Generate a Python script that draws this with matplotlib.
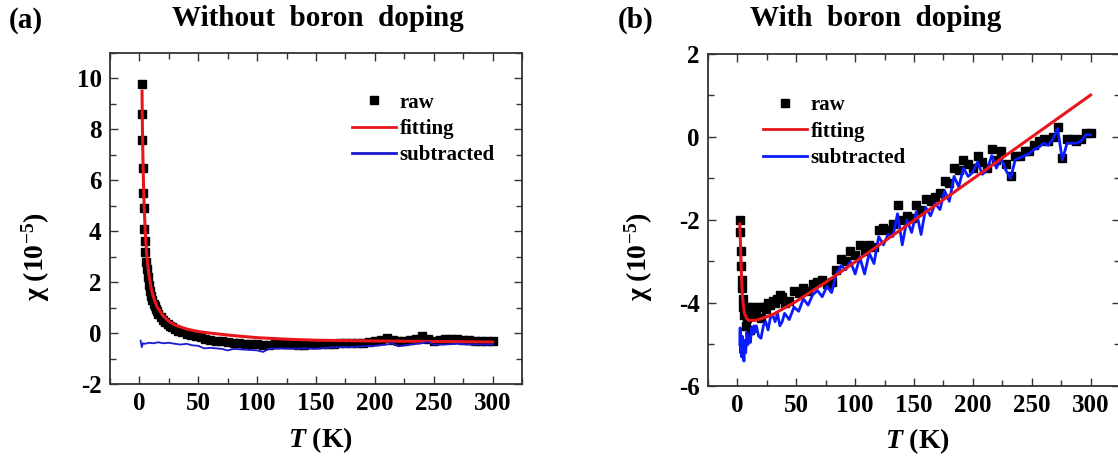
import matplotlib
matplotlib.use("Agg")
import matplotlib.pyplot as plt
from matplotlib.lines import Line2D
from matplotlib.ticker import MultipleLocator

plt.rcParams["font.family"] = ["Liberation Serif", "DejaVu Serif"]
plt.rcParams["font.weight"] = "bold"
plt.rcParams["axes.unicode_minus"] = False
plt.rcParams["mathtext.fontset"] = "custom"
plt.rcParams["mathtext.rm"] = "Liberation Serif:bold"
plt.rcParams["mathtext.it"] = "Liberation Serif:italic:bold"
plt.rcParams["mathtext.bf"] = "Liberation Serif:bold"

# ---- (a) without boron doping ----
a_raw_T = [2.0, 2.2, 2.5, 2.8, 3.2, 3.6, 4.0, 4.5, 5.0, 5.5,
           6.0, 7.0, 8.0, 9.0, 10, 11, 12, 13, 14, 15,
           16, 18, 20, 22, 24, 26, 28, 30, 33, 36,
           40, 44, 48, 52, 56, 60, 65, 70, 75, 80,
           85, 90, 95, 100, 105, 110, 115, 120, 125, 130,
           135, 140, 145, 150, 155, 160, 165, 170, 175, 180,
           185, 190, 195, 200, 205, 210, 215, 220, 225, 230,
           235, 240, 245, 250, 255, 260, 265, 270, 275, 280,
           285, 290, 295, 300]
a_raw = [9.8, 8.6, 7.6, 6.5, 5.5, 4.9, 4.1, 3.6, 3.2, 2.8,
         2.5, 2.2, 1.9, 1.65, 1.45, 1.3, 1.15, 1.05, 0.95, 0.85,
         0.75, 0.62, 0.52, 0.42, 0.35, 0.28, 0.22, 0.16, 0.08, 0.03,
         -0.02, -0.07, -0.12, -0.17, -0.22, -0.27, -0.3, -0.33, -0.35, -0.38,
         -0.4, -0.42, -0.42, -0.44, -0.45, -0.45, -0.43, -0.42, -0.42, -0.44,
         -0.45, -0.45, -0.44, -0.42, -0.42, -0.43, -0.42, -0.4, -0.4, -0.4,
         -0.4, -0.38, -0.35, -0.32, -0.28, -0.2, -0.28, -0.3, -0.3, -0.28,
         -0.25, -0.12, -0.25, -0.3, -0.28, -0.25, -0.25, -0.25, -0.27, -0.28,
         -0.3, -0.3, -0.32, -0.32]

a_fit_T = [2.2, 2.5, 3, 3.5, 4, 5, 6, 7, 8, 10, 12, 15, 20, 25, 30,
           40, 50, 60, 80, 100, 125, 150, 200, 250, 300]
a_fit = [9.5, 8.2, 6.8, 5.75, 5.0, 3.9, 3.2, 2.7, 2.3, 1.75, 1.4, 1.03, 0.68, 0.46, 0.32,
         0.16, 0.06, 0.0, -0.1, -0.18, -0.24, -0.28, -0.31, -0.33, -0.35]

a_sub_T = [1, 2, 3, 5, 8, 12, 16, 20, 25, 30,
           35, 40, 45, 50, 55, 60, 65, 70, 75, 80,
           90, 100, 105, 110, 120, 130, 140, 150, 160, 170,
           180, 190, 200, 210, 215, 220, 230, 240, 245, 250,
           260, 270, 280, 290, 300]
a_sub = [-0.3, -0.55, -0.4, -0.42, -0.38, -0.4, -0.36, -0.4, -0.38, -0.42,
         -0.45, -0.42, -0.48, -0.5, -0.6, -0.58, -0.6, -0.62, -0.68, -0.62,
         -0.65, -0.68, -0.74, -0.62, -0.6, -0.62, -0.6, -0.62, -0.57, -0.55,
         -0.55, -0.52, -0.5, -0.45, -0.4, -0.52, -0.45, -0.4, -0.35, -0.45,
         -0.45, -0.42, -0.45, -0.45, -0.45]

# ---- (b) with boron doping ----
b_T = [2, 2.3, 2.6, 3, 3.5, 4, 4.5, 5, 5.5, 6,
       7, 8, 9, 10, 11, 12, 13, 14, 15, 16,
       18, 20, 22, 24, 26, 28, 30, 32, 34, 36,
       38, 40, 44, 48, 52, 56, 60, 64, 68, 72,
       76, 80, 84, 88, 92, 96, 100, 104, 108, 112,
       116, 120, 124, 128, 132, 136, 140, 144, 148, 152,
       156, 160, 164, 168, 172, 176, 180, 184, 188, 192,
       196, 200, 204, 208, 212, 216, 220, 224, 228, 232,
       236, 240, 244, 248, 252, 256, 260, 264, 268, 272,
       276, 280, 284, 288, 292, 296, 300]
b_raw = [-2.0, -2.3, -2.75, -3.1, -3.45, -3.65, -3.9, -4.1, -4.3, -4.15,
         -4.55, -4.35, -4.1, -4.2, -4.65, -4.25, -4.1, -4.3, -4.15, -4.2,
         -4.1, -4.35, -4.1, -4.15, -4.0, -4.05, -3.95, -4.0, -3.9, -3.8,
         -3.85, -4.0, -3.95, -3.7, -3.75, -3.65, -3.7, -3.55, -3.5, -3.45,
         -3.55, -3.5, -3.2, -2.95, -3.0, -2.75, -2.85, -2.6, -2.75, -2.6,
         -2.65, -2.25, -2.2, -2.25, -2.1, -1.65, -2.0, -1.9, -1.95, -1.65,
         -1.75, -1.5, -1.55, -1.45, -1.35, -1.05, -1.1, -0.75, -0.8, -0.55,
         -0.65, -0.75, -0.45, -0.6, -0.75, -0.3, -0.55, -0.35, -0.65, -0.95,
         -0.45, -0.45, -0.35, -0.35, -0.2, -0.1, -0.05, -0.1, 0.0, 0.25,
         -0.5, -0.05, -0.05, -0.1, -0.05, 0.1, 0.1]
b_sub = [-5.0, -4.6, -5.2, -4.9, -5.3, -4.8, -5.25, -5.0, -5.4, -4.9,
         -5.2, -4.7, -5.0, -4.8, -4.95, -4.6, -4.75, -4.55, -4.7, -4.55,
         -4.8, -4.85, -4.55, -4.45, -4.65, -4.35, -4.3, -4.45, -4.25, -4.55,
         -4.45, -4.25, -4.4, -4.1, -4.2, -3.9, -4.05, -3.8, -3.7, -3.85,
         -3.6, -3.75, -3.3, -3.1, -3.2, -3.0, -3.3, -2.9, -3.3, -2.8,
         -3.05, -2.4, -2.6, -2.35, -2.4, -1.85, -2.6, -2.0, -2.3, -1.8,
         -2.35, -1.7, -1.9, -1.6, -1.75, -1.3, -1.55, -0.95, -1.2, -0.75,
         -0.95, -0.85, -0.6, -0.9, -0.8, -0.45, -0.75, -0.5, -0.8, -1.0,
         -0.55, -0.5, -0.45, -0.4, -0.3, -0.25, -0.15, -0.2, -0.05, 0.2,
         -0.55, -0.15, -0.15, -0.15, -0.1, 0.05, 0.05]

b_fit_T = [2, 2.5, 3, 3.5, 4, 5, 6, 8, 10, 15, 20, 30, 40, 50, 75,
           100, 150, 200, 250, 300]
b_fit = [-2.1, -2.5, -3.0, -3.4, -3.75, -4.05, -4.25, -4.38, -4.42, -4.42, -4.38, -4.28, -4.12,
         -3.96, -3.5, -3.01, -2.01, -1.01, 0.0, 1.01]

legend_labels = ["raw", "fitting", "subtracted"]

fig = plt.figure(figsize=(11.18, 4.57), dpi=100)
ax1 = fig.add_axes([0.0984, 0.1597, 0.3685, 0.7243])
ax2 = fig.add_axes([0.6333, 0.1554, 0.3685, 0.7265])

RED = "#e8161c"


def style_axes(ax, ylim, ymajor):
    ax.set_xlim(-25, 325)
    ax.set_ylim(*ylim)
    ax.xaxis.set_major_locator(MultipleLocator(50))
    ax.xaxis.set_minor_locator(MultipleLocator(25))
    ax.yaxis.set_major_locator(MultipleLocator(ymajor))
    ax.yaxis.set_minor_locator(MultipleLocator(ymajor / 2))
    ax.tick_params(which="both", direction="in", top=True, right=True,
                   width=1.0, color="#333333", labelsize=18, pad=6)
    ax.tick_params(which="major", length=6)
    ax.tick_params(which="minor", length=4)
    for lab in ax.get_xticklabels() + ax.get_yticklabels():
        lab.set_fontweight("bold")
    for sp in ax.spines.values():
        sp.set_linewidth(1.3)
        sp.set_color("#333333")


# panel (a)
ax1.plot(a_raw_T, a_raw, "ks", markersize=5.5, linestyle="none", zorder=2)
ax1.plot(a_fit_T, a_fit, color=RED, linewidth=2.2, zorder=3)
ax1.plot(a_sub_T, a_sub, color="#1a1ad0", linewidth=1.3, zorder=4)
style_axes(ax1, (-2, 11), 2)

# panel (b)
ax2.plot(b_T, b_raw, "ks", markersize=5.5, linestyle="none", zorder=2)
ax2.plot(b_T, b_sub, color="#0a1cff", linewidth=2.0, zorder=3)
ax2.plot(b_fit_T, b_fit, color=RED, linewidth=2.2, zorder=4)
style_axes(ax2, (-6, 2), 2)

for ax, leg_xy, sub_color in [(ax1, (0.587, 0.88), "#1a1ad0"), (ax2, (0.133, 0.875), "#0a1cff")]:
    handles = [
        Line2D([], [], color="k", marker="s", markersize=5.5, linestyle="none"),
        Line2D([], [], color=RED, linewidth=2.0),
        Line2D([], [], color=sub_color, linewidth=2.0),
    ]
    ax.legend(handles, legend_labels, loc="upper left", bbox_to_anchor=leg_xy,
              frameon=False, handlelength=2.1, handletextpad=0.2, labelspacing=0.3,
              borderaxespad=0, borderpad=0, numpoints=1,
              prop={"family": "Liberation Serif", "weight": "bold", "size": 15})

    ax.set_xlabel(r"$\mathit{T}$ (K)", fontsize=20, fontweight="bold")
    ax.set_ylabel(r"χ (10$^{-5}$)", fontsize=20, fontweight="bold")

ax1.xaxis.set_label_coords(0.51, -0.125)
ax2.xaxis.set_label_coords(0.509, -0.122)
ax1.yaxis.set_label_coords(-0.14, 0.384)
ax2.yaxis.set_label_coords(-0.128, 0.389)

fig.text(26 / 1118, 1 - 20 / 457, "(a)", fontsize=21, fontweight="bold", ha="center", va="center")
fig.text(318 / 1118, 1 - 19 / 457, "Without  boron  doping", fontsize=21, fontweight="bold",
         ha="center", va="center")
fig.text(636 / 1118, 1 - 20 / 457, "(b)", fontsize=21, fontweight="bold", ha="center", va="center")
fig.text(876 / 1118, 1 - 19 / 457, "With  boron  doping", fontsize=21, fontweight="bold",
         ha="center", va="center")

fig.savefig("out.png", dpi=100)
